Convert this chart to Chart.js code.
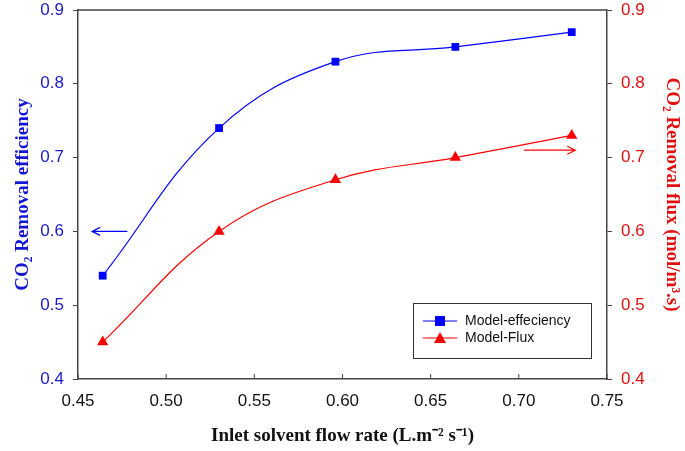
<!DOCTYPE html>
<html>
<head>
<meta charset="utf-8">
<script src="https://cdn.jsdelivr.net/npm/chart.js@4"></script>
<style>
  html, body { margin: 0; padding: 0; background: #fff; }
  #wrap { width: 685px; height: 451px; position: relative; }
</style>
</head>
<body>
<div id="wrap"><canvas id="co2Chart"></canvas></div>
<script>
// flow rate (L.m-2 s-1) and model outputs
var flowRate = [0.464, 0.530, 0.596, 0.664, 0.730];
var efficiency = [0.54, 0.74, 0.83, 0.85, 0.87];
var flux = [0.45, 0.60, 0.67, 0.70, 0.73];

// arrows telling which axis each curve belongs to: [x from, x to, y]
var effArrow = [0.478, 0.458, 0.60];
var fluxArrow = [0.703, 0.732, 0.71];

var blue = '#0000ff';
var red = '#ff0000';
var axisGrey = '#444444';

function pts(xs, ys) {
    return xs.map(function (x, i) { return { x: x, y: ys[i] }; });
}

function drawArrow(ctx, x0, x1, y, color) {
    var dir = x1 > x0 ? 1 : -1;
    ctx.save();
    ctx.strokeStyle = color;
    ctx.lineWidth = 1.2;
    ctx.beginPath();
    ctx.moveTo(x0, y);
    ctx.lineTo(x1, y);
    ctx.moveTo(x1 - dir * 8, y - 4);
    ctx.lineTo(x1, y);
    ctx.lineTo(x1 - dir * 8, y + 4);
    ctx.stroke();
    ctx.restore();
}

// y axes: fixed width, top of plot at 10px
function fitY(s) {
    s.width = 78;
    s.paddingTop = 10;
    s.paddingBottom = 10;
}

var extras = {
    id: 'extras',
    afterDraw: function (chart) {
        var ctx = chart.ctx;
        var a = chart.chartArea;
        var xs = chart.scales.x, yl = chart.scales.y, yr = chart.scales.y1;

        // top frame line
        ctx.save();
        ctx.strokeStyle = axisGrey;
        ctx.lineWidth = 1.5;
        ctx.beginPath();
        ctx.moveTo(a.left, a.top);
        ctx.lineTo(a.right, a.top);
        ctx.stroke();

        // inward x ticks
        ctx.lineWidth = 1;
        ctx.beginPath();
        xs.ticks.forEach(function (t) {
            var px = xs.getPixelForValue(t.value);
            ctx.moveTo(px, a.bottom);
            ctx.lineTo(px, a.bottom - 5);
        });
        ctx.stroke();
        ctx.restore();

        drawArrow(ctx, xs.getPixelForValue(effArrow[0]), xs.getPixelForValue(effArrow[1]),
            yl.getPixelForValue(effArrow[2]), blue);
        drawArrow(ctx, xs.getPixelForValue(fluxArrow[0]), xs.getPixelForValue(fluxArrow[1]),
            yr.getPixelForValue(fluxArrow[2]), red);

        // legend box
        var bx = 413, by = 303, bw = 178, bh = 55;
        ctx.save();
        ctx.fillStyle = '#fff';
        ctx.fillRect(bx, by, bw, bh);
        ctx.strokeStyle = '#333';
        ctx.lineWidth = 1;
        ctx.strokeRect(bx + 0.5, by + 0.5, bw, bh);
        var rows = [
            { label: 'Model-effeciency', color: blue, style: 'rect', y: by + 18 },
            { label: 'Model-Flux', color: red, style: 'triangle', y: by + 35 }
        ];
        ctx.font = '14px "Liberation Sans", Arial, sans-serif';
        ctx.textBaseline = 'middle';
        rows.forEach(function (r) {
            ctx.strokeStyle = r.color;
            ctx.lineWidth = 1.2;
            ctx.beginPath();
            ctx.moveTo(bx + 10, r.y);
            ctx.lineTo(bx + 44, r.y);
            ctx.stroke();
            ctx.fillStyle = r.color;
            if (r.style === 'rect') {
                ctx.fillRect(bx + 22, r.y - 5, 10, 10);
            } else {
                ctx.beginPath();
                ctx.moveTo(bx + 27, r.y - 6);
                ctx.lineTo(bx + 33, r.y + 5);
                ctx.lineTo(bx + 21, r.y + 5);
                ctx.closePath();
                ctx.fill();
            }
            ctx.fillStyle = '#111';
            ctx.fillText(r.label, bx + 52, r.y);
        });
        ctx.restore();
    }
};

var ctx = document.getElementById('co2Chart');
var co2Chart = new Chart(ctx, {
    type: 'line',
    data: {
        datasets: [{
            label: 'Model-effeciency',
            data: pts(flowRate, efficiency),
            yAxisID: 'y',
            borderColor: blue,
            backgroundColor: blue,
            borderWidth: 1.2,
            pointStyle: 'rect',
            pointRadius: 5.5,
            pointBorderWidth: 0,
            tension: 0.4
        }, {
            label: 'Model-Flux',
            data: pts(flowRate, flux),
            yAxisID: 'y1',
            borderColor: red,
            backgroundColor: red,
            borderWidth: 1.2,
            pointStyle: 'triangle',
            pointRadius: 6.5,
            pointBorderWidth: 0,
            tension: 0.4
        }]
    },
    options: {
        responsive: true,
        maintainAspectRatio: false,
        animation: false,
        layout: { padding: 0 },
        plugins: {
            legend: { display: false },
            tooltip: { enabled: false }
        },
        scales: {
            x: {
                type: 'linear',
                min: 0.45,
                max: 0.75,
                afterFit: function (s) { s.height = 72; },
                border: { color: axisGrey, width: 1.5 },
                grid: { drawOnChartArea: false, drawTicks: false },
                ticks: {
                    stepSize: 0.05,
                    padding: 12,
                    color: '#111',
                    font: { family: '"Liberation Sans", Arial, sans-serif', size: 17 },
                    callback: function (v) { return v.toFixed(2); }
                },
                title: {
                    display: true,
                    text: 'Inlet solvent flow rate (L.m\u207B\u00B2 s\u207B\u00B9)',
                    color: '#111',
                    padding: { top: 4, bottom: 4 },
                    font: { family: '"Liberation Serif", "Times New Roman", serif', size: 19, weight: 'bold' }
                }
            },
            y: {
                position: 'left',
                min: 0.4,
                max: 0.9,
                afterFit: fitY,
                border: { color: axisGrey, width: 1.5 },
                grid: { drawOnChartArea: false, tickLength: 5, color: axisGrey },
                ticks: {
                    stepSize: 0.1,
                    padding: 9,
                    color: '#1a1ac8',
                    font: { family: '"Liberation Sans", Arial, sans-serif', size: 17 },
                    callback: function (v) { return v.toFixed(1); }
                },
                title: {
                    display: true,
                    text: 'CO\u2082 Removal efficiency',
                    color: '#1414d4',
                    padding: { top: 12, bottom: 2 },
                    font: { family: '"Liberation Serif", "Times New Roman", serif', size: 19, weight: 'bold' }
                }
            },
            y1: {
                position: 'right',
                min: 0.4,
                max: 0.9,
                afterFit: fitY,
                border: { color: axisGrey, width: 1.5 },
                grid: { drawOnChartArea: false, tickLength: 5, color: axisGrey },
                ticks: {
                    stepSize: 0.1,
                    padding: 9,
                    color: '#e01010',
                    font: { family: '"Liberation Sans", Arial, sans-serif', size: 17 },
                    callback: function (v) { return v.toFixed(1); }
                },
                title: {
                    display: true,
                    text: 'CO\u2082 Removal flux (mol/m\u00B3.s)',
                    color: '#e01010',
                    padding: { top: 2, bottom: 0 },
                    font: { family: '"Liberation Serif", "Times New Roman", serif', size: 19, weight: 'bold' }
                }
            }
        }
    },
    plugins: [extras]
});
</script>
</body>
</html>
